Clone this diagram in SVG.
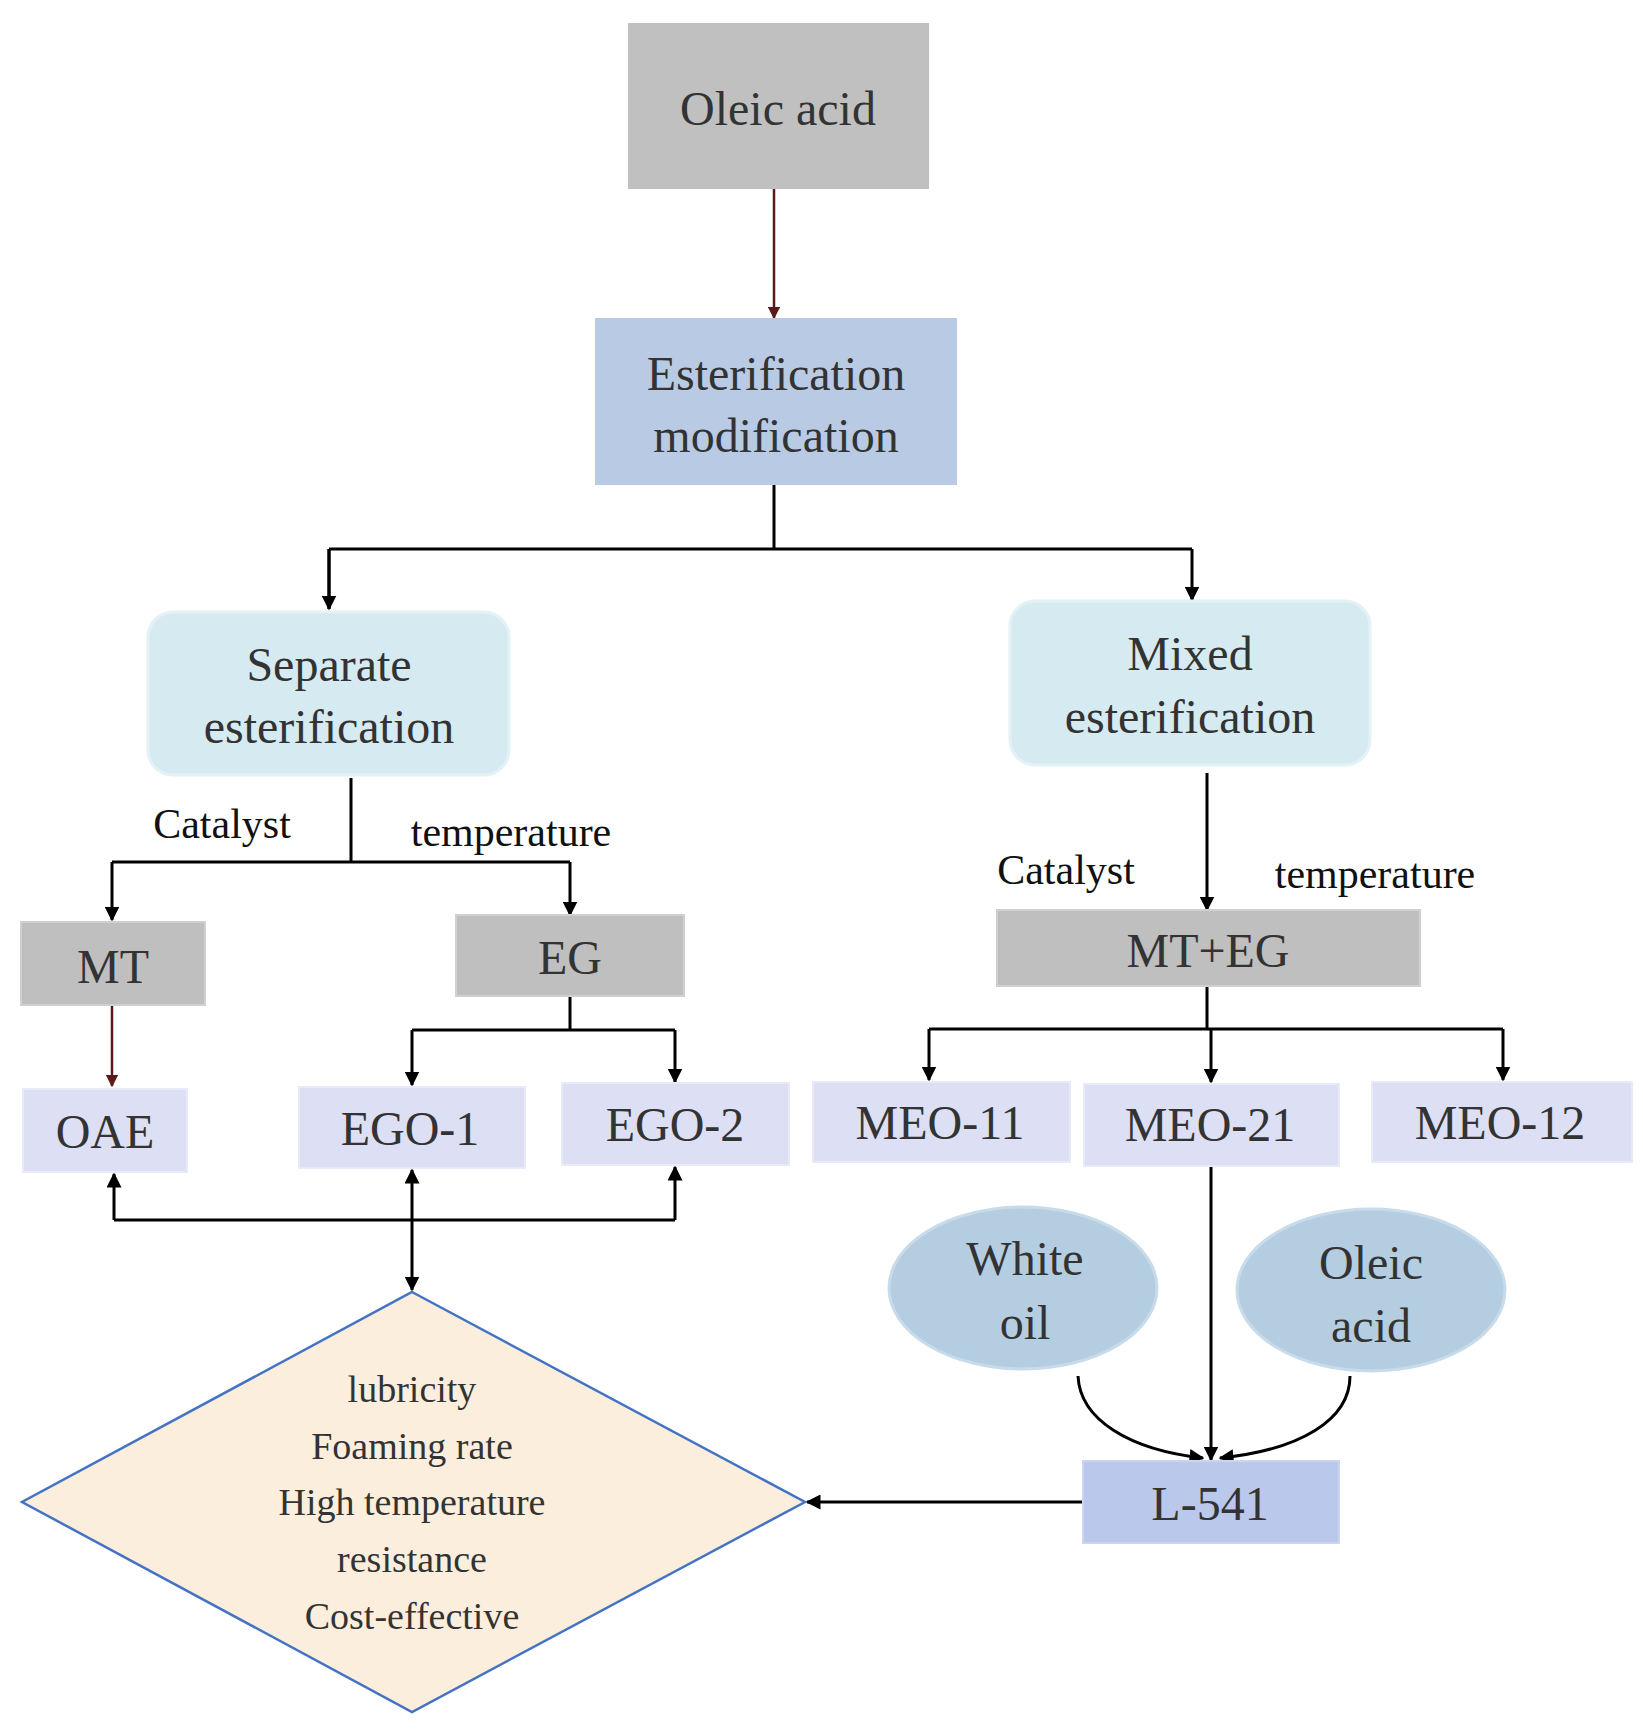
<svg xmlns="http://www.w3.org/2000/svg" width="1643" height="1735" viewBox="0 0 1643 1735">
<defs>
<style>
text{font-family:"Liberation Serif","Times New Roman",serif;fill:#333;text-anchor:middle;dominant-baseline:central}
.b{font-size:48px}.s{font-size:42px;fill:#111}.d{font-size:38px}
.ln{stroke:#000;stroke-width:3;fill:none}
.red{stroke:#5a1a1a;stroke-width:2.5;fill:none}
</style>
<marker id="a" viewBox="0 0 10 10" refX="9" refY="5" markerWidth="5" markerHeight="5" orient="auto-start-reverse"><path d="M0,0L10,5L0,10z" fill="#000"/></marker>
<marker id="ar" viewBox="0 0 10 10" refX="9" refY="5" markerWidth="5" markerHeight="5" orient="auto"><path d="M0,0L10,5L0,10z" fill="#5a1a1a"/></marker>
</defs>
<rect width="1643" height="1735" fill="#fff"/>
<g id="connectors">
<path class="red" d="M774,189V318" marker-end="url(#ar)"/>
<path class="ln" d="M774,485V550M329,549H1192M329,549V609M1192,549V600" marker-end="url(#a)"/>
<path class="ln" d="M329,549V609" marker-end="url(#a)"/>
<path class="ln" d="M351,778V862M112,862H570"/>
<path class="ln" d="M112,862V920" marker-end="url(#a)"/>
<path class="ln" d="M570,862V915" marker-end="url(#a)"/>
<path class="ln" d="M1207,773V910" marker-end="url(#a)"/>
<path class="red" d="M112,1005V1086" marker-end="url(#ar)"/>
<path class="ln" d="M570,996V1030M412,1030H675"/>
<path class="ln" d="M412,1030V1085" marker-end="url(#a)"/>
<path class="ln" d="M675,1030V1082" marker-end="url(#a)"/>
<path class="ln" d="M1207,986V1029M929,1029H1503"/>
<path class="ln" d="M929,1029V1080" marker-end="url(#a)"/>
<path class="ln" d="M1211,1029V1082" marker-end="url(#a)"/>
<path class="ln" d="M1503,1029V1080" marker-end="url(#a)"/>
<path class="ln" d="M114,1220H675"/>
<path class="ln" d="M114,1220V1174" marker-end="url(#a)"/>
<path class="ln" d="M675,1220V1167" marker-end="url(#a)"/>
<path class="ln" d="M412,1170V1290" marker-start="url(#a)" marker-end="url(#a)"/>
<path class="ln" d="M1211,1166V1460" stroke-width="2.5" marker-end="url(#a)"/>
<path class="ln" d="M1078,1376C1080,1420 1130,1450 1203,1458" stroke-width="5" marker-end="url(#a)"/>
<path class="ln" d="M1350,1376C1350,1420 1300,1450 1220,1458" stroke-width="5" marker-end="url(#a)"/>
<path class="ln" d="M1083,1502H807" marker-end="url(#a)"/>
</g>
<g id="oleic"><rect x="628" y="23" width="301" height="166" fill="#c0c0c0"/><text class="b" x="778" y="108">Oleic acid</text></g>
<g id="ester"><rect x="595" y="318" width="362" height="167" fill="#b9cbe4"/><text class="b" x="776" y="373">Esterification</text><text class="b" x="776" y="435">modification</text></g>
<g id="separate"><rect x="148" y="612" width="361" height="163" rx="25" fill="#d6eaf1" stroke="#e4f1f6" stroke-width="3"/><text class="b" x="329" y="664">Separate</text><text class="b" x="329" y="726">esterification</text></g>
<g id="mixed"><rect x="1010" y="601" width="360" height="164" rx="25" fill="#d6eaf1" stroke="#e4f1f6" stroke-width="3"/><text class="b" x="1190" y="653">Mixed</text><text class="b" x="1190" y="716">esterification</text></g>
<g id="labels"><text class="s" x="222" y="824">Catalyst</text><text class="s" x="511" y="832">temperature</text><text class="s" x="1066" y="870">Catalyst</text><text class="s" x="1375" y="874">temperature</text></g>
<g id="mt"><rect x="21" y="922" width="184" height="83" fill="#bfbfbf" stroke="#d0d0d0" stroke-width="2"/><text class="b" x="113" y="966">MT</text></g>
<g id="eg"><rect x="456" y="915" width="228" height="81" fill="#bfbfbf" stroke="#d0d0d0" stroke-width="2"/><text class="b" x="570" y="957">EG</text></g>
<g id="mteg"><rect x="997" y="910" width="423" height="76" fill="#bfbfbf" stroke="#d0d0d0" stroke-width="2"/><text class="b" x="1208" y="950">MT+EG</text></g>
<g id="oae"><rect x="23" y="1089" width="164" height="83" fill="#dde0f5" stroke="#e8eaf8" stroke-width="2"/><text class="b" x="105" y="1131">OAE</text></g>
<g id="ego1"><rect x="299" y="1087" width="226" height="81" fill="#dde0f5" stroke="#e8eaf8" stroke-width="2"/><text class="b" x="410" y="1128">EGO-1</text></g>
<g id="ego2"><rect x="562" y="1083" width="227" height="82" fill="#dde0f5" stroke="#e8eaf8" stroke-width="2"/><text class="b" x="675" y="1124">EGO-2</text></g>
<g id="meo11"><rect x="813" y="1082" width="257" height="80" fill="#dde0f5" stroke="#e8eaf8" stroke-width="2"/><text class="b" x="940" y="1122">MEO-11</text></g>
<g id="meo21"><rect x="1084" y="1084" width="255" height="82" fill="#dde0f5" stroke="#e8eaf8" stroke-width="2"/><text class="b" x="1210" y="1124">MEO-21</text></g>
<g id="meo12"><rect x="1372" y="1082" width="260" height="80" fill="#dde0f5" stroke="#e8eaf8" stroke-width="2"/><text class="b" x="1500" y="1122">MEO-12</text></g>
<g id="whiteoil"><ellipse cx="1023" cy="1288" rx="134" ry="81" fill="#b4cde1" stroke="#c8dbea" stroke-width="3"/><text class="b" x="1025" y="1258">White</text><text class="b" x="1025" y="1322">oil</text></g>
<g id="oleic2"><ellipse cx="1371" cy="1290" rx="134" ry="81" fill="#b4cde1" stroke="#c8dbea" stroke-width="3"/><text class="b" x="1371" y="1262">Oleic</text><text class="b" x="1371" y="1325">acid</text></g>
<g id="l541"><rect x="1083" y="1461" width="256" height="82" fill="#bac8ec" stroke="#cad5f0" stroke-width="2"/><text class="b" x="1210" y="1503">L-541</text></g>
<g id="diamond"><path d="M412,1292L805,1502L412,1712L22,1502Z" fill="#fbeedd" stroke="#4472c4" stroke-width="2.5"/>
<text class="d" x="412" y="1389">lubricity</text><text class="d" x="412" y="1446">Foaming rate</text><text class="d" x="412" y="1502">High temperature</text><text class="d" x="412" y="1559">resistance</text><text class="d" x="412" y="1616">Cost-effective</text></g>
</svg>
